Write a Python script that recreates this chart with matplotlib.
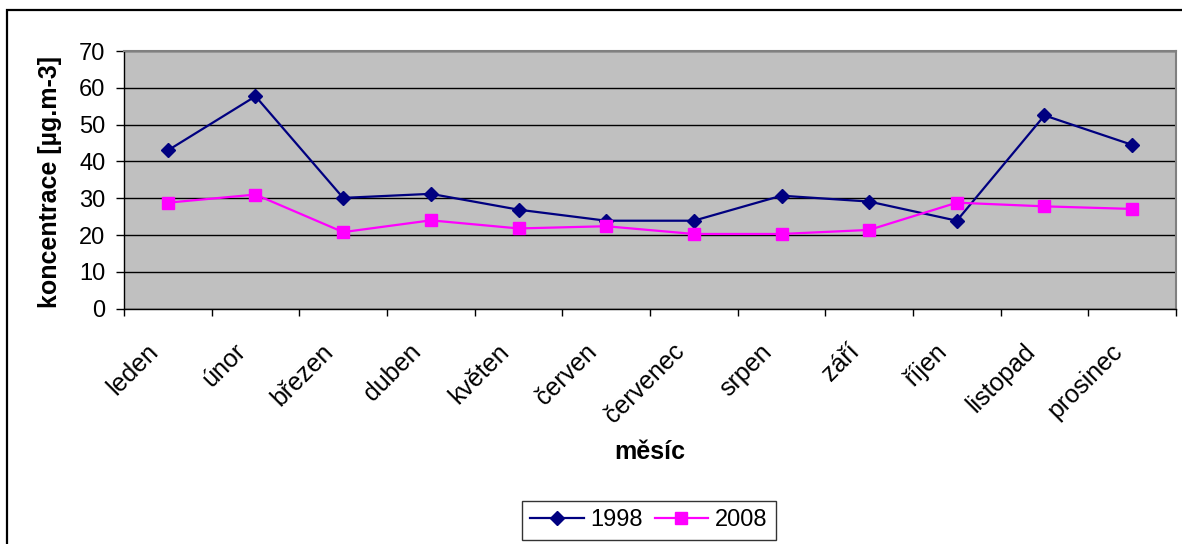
import matplotlib
matplotlib.use("Agg")
import matplotlib.pyplot as plt
from matplotlib.patches import Rectangle
import numpy as np

plt.rcParams['font.family'] = ['Liberation Sans', 'DejaVu Sans']

months = ["leden", "únor", "březen", "duben", "květen", "červen",
          "červenec", "srpen", "září", "říjen", "listopad", "prosinec"]
values_1998 = [43.0, 57.7, 30.1, 31.2, 26.9, 23.9, 23.9, 30.7, 29.1, 23.9, 52.5, 44.5]
values_2008 = [28.8, 31.0, 20.8, 24.0, 21.8, 22.4, 20.3, 20.3, 21.4, 28.8, 27.8, 27.1]
y_ticks = [0, 10, 20, 30, 40, 50, 60, 70]

W, H = 1182, 544
fig = plt.figure(figsize=(W / 100, H / 100), dpi=100)
ax = fig.add_axes([124 / W, 1 - 308.7 / H, (1176 - 124) / W, (308.7 - 51) / H])
ax.set_facecolor('#C0C0C0')

x = np.arange(len(months))
ax.plot(x, values_1998, color='#000080', lw=1.6, marker='D', ms=7.2,
        label='1998', zorder=3)
ax.plot(x, values_2008, color='#FF00FF', lw=1.6, marker='s', ms=8.4,
        label='2008', zorder=3)

ax.set_xlim(-0.5, len(months) - 0.5)
ax.set_ylim(0, 70)
ax.set_yticks(y_ticks)
ax.yaxis.grid(True, color='black', lw=1)
ax.set_axisbelow(True)

# category boundaries as ticks; names hang slightly left of each centre
ax.set_xticks(np.arange(-0.5, len(months), 1.0))
ax.set_xticklabels([])
ax.set_xticks(x - 0.25, minor=True)
ax.set_xticklabels(months, minor=True, rotation=45, ha='right', va='top',
                   rotation_mode='anchor', fontsize=18)
ax.tick_params(axis='x', which='minor', length=0, pad=22)
ax.tick_params(axis='x', which='major', length=5, width=1, color='black')
ax.tick_params(axis='y', length=5.8, width=1, labelsize=17, pad=7.5)

for side in ['top', 'right']:
    ax.spines[side].set_color('#808080')
    ax.spines[side].set_linewidth(1.5)
for side in ['left', 'bottom']:
    ax.spines[side].set_color('black')
    ax.spines[side].set_linewidth(1)

fig.text(50 / W, 1 - 182 / H, 'koncentrace [µg.m-3]', fontsize=18,
         fontweight='bold', rotation=90, ha='center', va='center')
fig.text(650 / W, 1 - 452 / H, 'měsíc', fontsize=18, fontweight='bold',
         ha='center', va='center')

leg = fig.legend(loc='center', bbox_to_anchor=(649 / W, 1 - 520.5 / H), ncol=2,
                 fontsize=17, frameon=True, fancybox=False, edgecolor='black',
                 handlelength=2.25, handletextpad=0.3, columnspacing=0.5,
                 borderpad=0.35, borderaxespad=0)
leg.get_frame().set_linewidth(1)

# outer chart border
fig.patches.append(Rectangle((6.7 / W, -0.05), 1.1, 1 - 10 / H + 0.05,
                             transform=fig.transFigure, fill=False,
                             edgecolor='black', lw=1.6, clip_on=False))

fig.savefig('out.png', dpi=100, facecolor='white')
